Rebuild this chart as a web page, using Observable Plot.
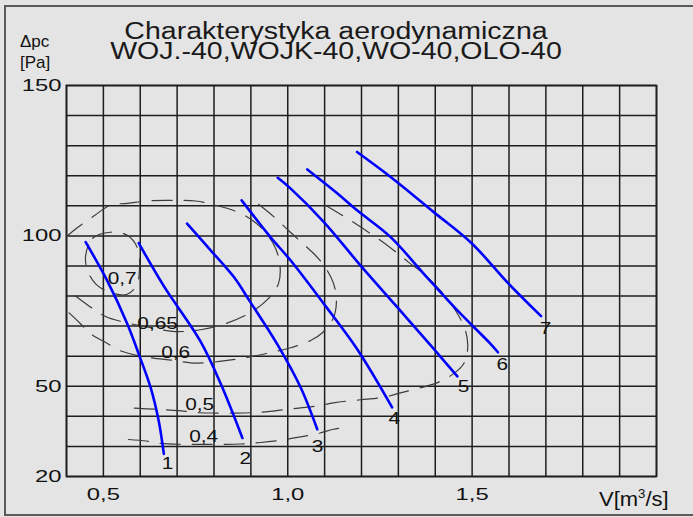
<!DOCTYPE html>
<html>
<head>
<meta charset="utf-8">
<script src="https://cdn.jsdelivr.net/npm/d3@7"></script>
<script src="https://cdn.jsdelivr.net/npm/@observablehq/plot@0.6"></script>
<style>
  html, body { margin: 0; padding: 0; background: #e4e4e4; }
  body { font-family: "Liberation Sans", Arial, sans-serif; color: #111; }
  #wrap { position: relative; width: 693px; height: 517px; overflow: hidden; background: #e4e4e4; }
  #chart { position: absolute; left: 0; top: 0; }
  #border { position: absolute; left: 4px; top: 5px; width: 700px; height: 511px; box-sizing: border-box; border: 2px solid #5a5a5a; }
  .ttl { position: absolute; left: 0; width: 672px; text-align: center; font-size: 23px; line-height: 18px; white-space: nowrap; color: #1a1a1a; transform: scaleX(1.24); transform-origin: 336px 0; }
  .unit { position: absolute; font-size: 17px; line-height: 17px; white-space: nowrap; }
</style>
</head>
<body>
<div id="wrap">
  <div id="chart"></div>
  <div id="border"></div>
  <div class="ttl" style="top:21.5px">Charakterystyka aerodynamiczna</div>
  <div class="ttl" style="top:42px">WOJ.-40,WOJK-40,WO-40,OLO-40</div>
  <div class="unit" style="left:20px; top:32.5px">Δpc</div>
  <div class="unit" style="left:20px; top:53.5px">[Pa]</div>
  <div class="unit" style="left:599px; top:489px; font-size:20px; line-height:20px; transform:scaleX(1.1); transform-origin:0 0;">V[m<span style="font-size:12px; position:relative; top:-8px">3</span>/s]</div>
</div>
<script>
// ---- axis ticks ----
const xTicks = [0.5, 1.0, 1.5];
const yTicks = [20, 50, 100, 150];
const xGrid = d3.range(4, 21).map(d => d / 10);
const yGrid = d3.range(2, 16).map(d => d * 10);

// ---- fan characteristics (V [m3/s], dp [Pa]) ----
const curve1 = [[0.452, 97.9], [0.510, 85.2], [0.565, 70.7], [0.596, 60.7], [0.628, 49.6], [0.650, 38.5], [0.664, 27.5]];
const curve2 = [[0.596, 97.6], [0.664, 83.3], [0.763, 65.0], [0.818, 50.9], [0.877, 32.8]];
const curve3 = [[0.727, 104.1], [0.791, 95.2], [0.854, 86.3], [0.899, 77.9], [0.971, 64.1], [1.035, 49.6], [1.080, 35.7]];
const curve4 = [[0.875, 111.8], [0.953, 99.6], [1.008, 91.8], [1.098, 77.4], [1.188, 62.4], [1.283, 43.0]];
const curve5 = [[0.973, 119.3], [1.008, 115.7], [1.098, 104.6], [1.197, 90.2], [1.297, 76.3], [1.396, 62.4], [1.460, 53.3]];
const curve6 = [[1.053, 122.1], [1.134, 114.2], [1.188, 108.5], [1.279, 99.6], [1.369, 87.4], [1.460, 75.2], [1.550, 64.1], [1.570, 61.3]];
const curve7 = [[1.188, 127.9], [1.279, 119.6], [1.396, 107.9], [1.500, 97.4], [1.595, 84.6], [1.687, 73.3]];
const curveNames = ["1", "2", "3", "4", "5", "6", "7"];
const curveLabelX = [0.674, 0.885, 1.081, 1.289, 1.477, 1.582, 1.699];
const curveLabelY = [24.2, 25.8, 29.8, 39.2, 49.8, 57.2, 69.2];

// ---- efficiency contours ----
const eff070 = [[0.452, 93.5], [0.471, 99.2], [0.519, 101.2], [0.565, 100.2], [0.593, 95.8], [0.598, 89.2], [0.590, 83.5], [0.563, 80.5], [0.519, 81.2], [0.481, 83.8], [0.457, 88.5]];
const eff065 = [[0.400, 99.8], [0.430, 102.8], [0.473, 106.5], [0.519, 110.2], [0.565, 110.8], [0.628, 111.7], [0.696, 111.8], [0.750, 111.6], [0.804, 110.2], [0.872, 107.5], [0.921, 103.5], [0.959, 97.8], [0.978, 91.2], [0.975, 84.2], [0.948, 79.2], [0.899, 74.5], [0.831, 70.8], [0.763, 68.8], [0.696, 68.2], [0.628, 69.5], [0.560, 71.2], [0.506, 73.2], [0.460, 76.8], [0.416, 80.8], [0.400, 82.5]];
const eff060 = [[0.921, 110.5], [0.961, 106.5], [1.002, 101.8], [1.043, 97.2], [1.073, 93.8], [1.102, 89.5], [1.124, 84.2], [1.132, 78.5], [1.124, 72.8], [1.094, 67.8], [1.062, 65.2], [1.008, 62.8], [0.953, 61.2], [0.899, 59.8], [0.831, 58.5], [0.777, 57.8], [0.736, 57.8], [0.696, 58.5], [0.628, 59.5], [0.593, 60.2], [0.546, 61.8], [0.511, 64.2], [0.465, 67.5], [0.438, 70.8], [0.400, 75.2]];
const eff050 = [[1.102, 110.2], [1.143, 107.2], [1.178, 104.5], [1.224, 100.8], [1.252, 98.5], [1.298, 94.2], [1.328, 91.2], [1.368, 87.5], [1.414, 81.8], [1.455, 75.2], [1.482, 68.5], [1.488, 62.8], [1.477, 57.5], [1.450, 54.2], [1.406, 51.2], [1.360, 49.5], [1.306, 47.8], [1.265, 46.5], [1.216, 45.7], [1.170, 45.2], [1.124, 44.5], [1.083, 43.5], [1.035, 42.8], [0.989, 42.2], [0.940, 41.5], [0.899, 41.2], [0.856, 41.1], [0.804, 41.1], [0.761, 41.2], [0.712, 41.8], [0.669, 42.2], [0.617, 42.5], [0.568, 42.8]];
const eff040 = [[0.568, 32.3], [0.617, 31.8], [0.655, 31.0], [0.712, 30.7], [0.763, 30.7], [0.818, 30.7], [0.872, 30.8], [0.926, 31.3], [0.989, 32.2], [1.035, 33.2], [1.083, 34.3], [1.124, 35.7], [1.157, 36.3]];
const effNames = ["0,7", "0,65", "0,6", "0,5", "0,4"];
const effLabelX = [0.551, 0.647, 0.696, 0.761, 0.772];
const effLabelY = [85.8, 70.8, 61.2, 43.8, 33.2];

// ---- tables built from the arrays ----
const fanRows = [curve1, curve2, curve3, curve4, curve5, curve6, curve7]
  .flatMap((c, k) => c.map(([v, p]) => ({id: curveNames[k], v, p})));
const openEffRows = [["0,65", eff065], ["0,6", eff060], ["0,5", eff050], ["0,4", eff040]]
  .flatMap(([e, c]) => c.map(([v, p]) => ({eff: e, v, p})));
const loopRows = eff070.map(([v, p]) => ({eff: "0,7", v, p}));
const curveLabels = curveNames.map((t, i) => ({t, v: curveLabelX[i], p: curveLabelY[i]}));
const effLabels = effNames.map((t, i) => ({t, v: effLabelX[i], p: effLabelY[i]}));

const fmtX = d => d.toFixed(1).replace(".", ",");
const gridColor = "#1e1e1e";
const dash = {stroke: "#3c3c3c", strokeWidth: 1.2, strokeDasharray: "20,12", fill: "none"};

const chart = Plot.plot({
  width: 693,
  height: 517,
  marginLeft: 66,
  marginRight: 37,
  marginTop: 85,
  marginBottom: 41,
  x: {domain: [0.4, 2.0]},
  y: {domain: [20, 150]},
  style: {background: "transparent", fontFamily: "'Liberation Sans', Arial, sans-serif", color: "#111"},
  marks: [
    Plot.gridX(xGrid, {stroke: gridColor, strokeOpacity: 1, strokeWidth: 1.5}),
    Plot.gridY(yGrid, {stroke: gridColor, strokeOpacity: 1, strokeWidth: 1.5}),
    Plot.frame({stroke: gridColor, strokeWidth: 1.7}),
    Plot.axisX(xTicks, {tickSize: 0, tickPadding: 11, tickFormat: fmtX, fontSize: 17, label: null, fill: "#111"}),
    Plot.axisY(yTicks, {tickSize: 0, tickPadding: 5, tickFormat: d => String(d), fontSize: 17, label: null, fill: "#111"}),
    Plot.line(openEffRows, {x: "v", y: "p", z: "eff", curve: "catmull-rom", ...dash}),
    Plot.line(loopRows, {x: "v", y: "p", curve: "catmull-rom-closed", ...dash}),
    Plot.line(fanRows, {x: "v", y: "p", z: "id", curve: "catmull-rom", stroke: "#0000ff", strokeWidth: 2.6}),
    Plot.text(curveLabels, {x: "v", y: "p", text: "t", fontSize: 16, fill: "#111"}),
    Plot.text(effLabels, {x: "v", y: "p", text: "t", fontSize: 16, fill: "#111"})
  ]
});
document.getElementById("chart").appendChild(chart);

// horizontal stretch of the glyphs, as in the reference picture
chart.querySelectorAll("text").forEach(t => {
  const w = t.getComputedTextLength();
  if (!w) return;
  const k = t.closest('g[aria-label$="tick label"]') ? 1.4 : 1.3;
  t.setAttribute("textLength", w * k);
  t.setAttribute("lengthAdjust", "spacingAndGlyphs");
});
</script>
</body>
</html>
